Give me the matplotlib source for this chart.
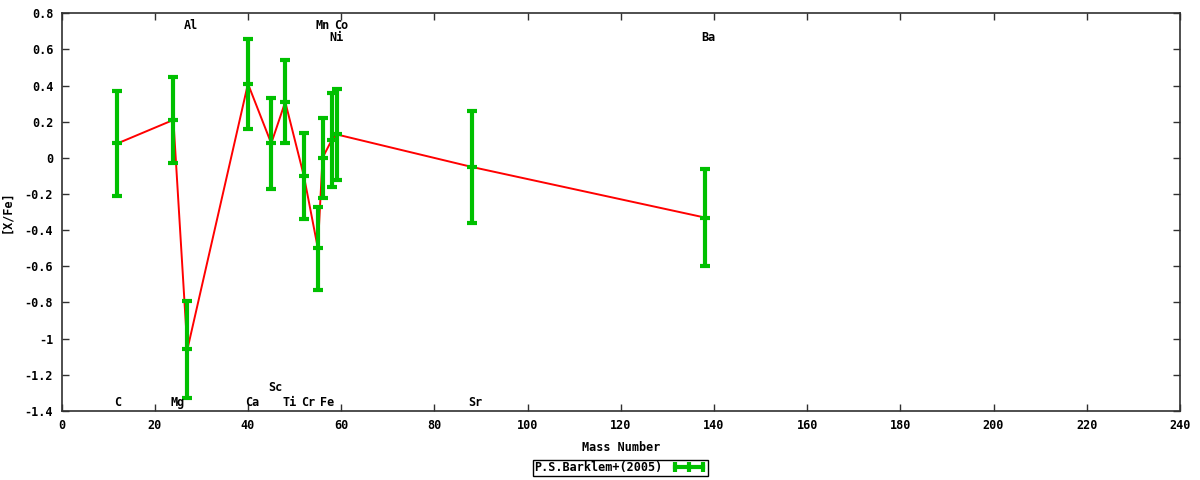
import numpy as np
import matplotlib
matplotlib.use("Agg")
import matplotlib.pyplot as plt
from matplotlib.lines import Line2D
from matplotlib.ticker import FuncFormatter, MultipleLocator

# --- data ---
elements = ["C", "Mg", "Al", "Ca", "Sc", "Ti", "Cr", "Mn", "Fe", "Ni", "Co", "Sr", "Ba"]
mass_number = [12, 24, 27, 40, 45, 48, 52, 55, 56, 58, 59, 88, 138]
x_fe = [0.08, 0.21, -1.06, 0.41, 0.08, 0.31, -0.10, -0.50, 0.00, 0.10, 0.13, -0.05, -0.33]
x_fe_err = [0.29, 0.24, 0.27, 0.25, 0.25, 0.23, 0.24, 0.23, 0.22, 0.26, 0.25, 0.31, 0.27]
# where each element name sits (mass number, [X/Fe])
label_x = [12.0, 24.8, 27.7, 40.9, 45.8, 48.9, 52.9, 56.0, 57.0, 58.9, 60.0, 88.7, 138.9]
label_y = [-1.355, -1.355, 0.735, -1.355, -1.268, -1.355, -1.355, 0.735, -1.355, 0.668, 0.735, -1.355, 0.668]
legend_label = "P.S.Barklem+(2005)"

GREEN = "#00c000"
RED = "#ff0000"

plt.rcParams["font.family"] = ["DejaVu Sans Mono"]
plt.rcParams["font.weight"] = "bold"
plt.rcParams["axes.unicode_minus"] = False

fig = plt.figure(figsize=(12, 4.8), dpi=100)
ax = fig.add_axes([0.0513, 0.144, 0.9320, 0.8283])

ax.plot(mass_number, x_fe, color=RED, lw=1.4, zorder=2)
ax.errorbar(mass_number, x_fe, yerr=x_fe_err, fmt="none", ecolor=GREEN,
            elinewidth=3, capsize=3.6, capthick=3, zorder=3)
ax.plot(mass_number, x_fe, ls="none", marker="_", ms=7.2, mew=3, color=GREEN, zorder=4)

for name, lx, ly in zip(elements, label_x, label_y):
    ax.text(lx, ly, name, ha="center", va="center", fontsize=8.5, fontweight="bold")

ax.set_xlim(0, 240)
ax.set_ylim(-1.4, 0.8)
ax.xaxis.set_major_locator(MultipleLocator(20))
ax.yaxis.set_major_locator(MultipleLocator(0.2))
fmt = FuncFormatter(lambda v, p: f"{round(v, 4):g}")
ax.xaxis.set_major_formatter(fmt)
ax.yaxis.set_major_formatter(fmt)
ax.tick_params(direction="in", length=5, width=1, top=True, right=True,
               labelsize=8.5, pad=6, color="#303030")
for spine in ax.spines.values():
    spine.set_color("#303030")
    spine.set_linewidth(1.2)

ax.set_xlabel("Mass Number", fontsize=8.5, fontweight="bold", labelpad=6)
ax.set_ylabel("[X/Fe]", fontsize=8.5, fontweight="bold", labelpad=8)

handle = Line2D([0], [0], color=GREEN, lw=3, marker="|", ms=7, mew=3)
leg = fig.legend([handle], [legend_label], loc="center", bbox_to_anchor=(0.517, 0.025),
                 numpoints=3, markerfirst=False, fancybox=False, framealpha=1,
                 edgecolor="black", borderpad=0.1, handlelength=3.0, handletextpad=0.8,
                 borderaxespad=0, prop={"size": 8.5, "weight": "bold"})
leg.get_frame().set_linewidth(1.0)

fig.savefig("out.png", dpi=100)
